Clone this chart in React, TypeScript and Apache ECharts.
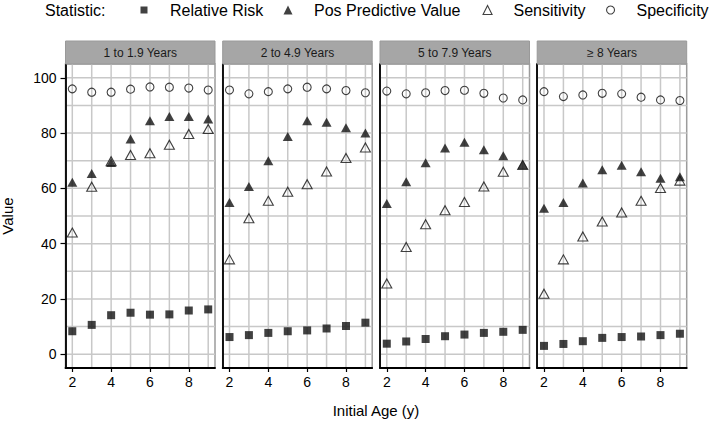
import React, { useEffect, useRef } from "react";
import * as echarts from "echarts";

// ---------------- data ----------------
const ages = [2, 3, 4, 5, 6, 7, 8, 9];
const panels = ["1 to 1.9 Years", "2 to 4.9 Years", "5 to 7.9 Years", "≥ 8 Years"];
const statistics = ["Relative Risk", "Pos Predictive Value", "Sensitivity", "Specificity"];

const relativeRisk = [
  [8.3, 10.6, 14.1, 15.0, 14.3, 14.4, 15.8, 16.2],
  [6.2, 6.9, 7.7, 8.3, 8.6, 9.3, 10.2, 11.4],
  [3.8, 4.6, 5.5, 6.5, 7.1, 7.7, 8.1, 8.8],
  [3.0, 3.7, 4.7, 5.9, 6.2, 6.4, 6.9, 7.4],
];
const posPredictiveValue = [
  [62.2, 65.4, 69.4, 77.9, 84.5, 86.0, 86.0, 85.1],
  [54.9, 60.7, 70.0, 78.8, 84.5, 83.9, 81.9, 80.0],
  [54.5, 62.4, 69.3, 74.6, 76.7, 74.0, 71.8, 68.6],
  [52.8, 54.9, 61.9, 66.7, 68.4, 66.0, 63.7, 64.2],
];
const sensitivity = [
  [44.0, 60.6, 69.8, 72.1, 72.7, 75.8, 79.7, 81.5],
  [34.3, 49.2, 55.5, 58.8, 61.5, 66.1, 71.0, 74.8],
  [25.6, 38.8, 47.0, 52.1, 55.1, 60.7, 66.0, 68.5],
  [21.9, 34.3, 42.6, 48.0, 51.3, 55.5, 60.1, 62.8],
];
const specificity = [
  [96.0, 94.8, 94.8, 95.9, 96.7, 96.6, 96.3, 95.6],
  [95.6, 94.2, 95.0, 96.0, 96.6, 96.0, 95.4, 94.6],
  [95.2, 94.2, 94.6, 95.4, 95.5, 94.4, 92.7, 92.0],
  [95.0, 93.2, 93.8, 94.4, 94.2, 93.0, 92.0, 91.8],
];

const xTickLabels = [2, 4, 6, 8];
const yTickLabels = [0, 20, 40, 60, 80, 100];
const xGridValues = ages;
const yGridValues = [0, 10, 20, 30, 40, 50, 60, 70, 80, 90, 100];

// ---------------- layout / style ----------------
const FONT = "'Liberation Sans', Arial, Helvetica, sans-serif";
const PANEL_LEFTS = [65.5, 222.7, 380, 537.2];
const PANEL_W = 149.5;
const PANEL_TOP = 64;
const PANEL_H = 304;
const X_MIN = 1.65;
const X_MAX = 9.35;
const Y_MIN = -5;
const Y_MAX = 105;
const GRID_COLOR = "#c8c8c8";
const GRID_WIDTH = 1.5;
const NONE = "rgba(0,0,0,0)";
const BORDER_COLOR = "#9c9c9c";

// grid line segments in data units: [x1, y1, x2, y2]
const gridSegments = [
  ...xGridValues.map((v) => [v, Y_MIN, v, Y_MAX]),
  ...yGridValues.map((v) => [X_MIN, v, X_MAX, v]),
];

const seriesStyles = [
  { symbol: "rect", symbolSize: 8, itemStyle: { color: "#111", borderWidth: 0 } },
  { symbol: "triangle", symbolSize: [10, 9], itemStyle: { color: "#111", borderWidth: 0 } },
  {
    symbol: "triangle",
    symbolSize: [10, 9],
    itemStyle: { color: NONE, borderColor: "#111", borderWidth: 1.1 },
  },
  {
    symbol: "circle",
    symbolSize: 8,
    itemStyle: { color: NONE, borderColor: "#111", borderWidth: 1.1 },
  },
];
const statData = [relativeRisk, posPredictiveValue, sensitivity, specificity];

const legendLayout = [
  { center: 144, icon: "rect", size: 7, open: false },
  { center: 288, icon: "triangle", size: 9, open: false },
  { center: 487, icon: "triangle", size: 9, open: true },
  { center: 610, icon: "circle", size: 8, open: true },
];

function renderGridLine(params: any, api: any) {
  const p1 = api.coord([api.value(0), api.value(1)]);
  const p2 = api.coord([api.value(2), api.value(3)]);
  return {
    type: "line",
    silent: true,
    shape: { x1: p1[0], y1: p1[1], x2: p2[0], y2: p2[1] },
    style: { stroke: GRID_COLOR, lineWidth: GRID_WIDTH },
  };
}

function buildOption() {
  const grid: any[] = [];
  const xAxis: any[] = [];
  const yAxis: any[] = [];
  const series: any[] = [];
  const graphic: any[] = [];

  panels.forEach((label, i) => {
    const left = PANEL_LEFTS[i];
    grid.push({
      left,
      top: PANEL_TOP,
      width: PANEL_W,
      height: PANEL_H,
      containLabel: false,
      show: true,
      backgroundColor: "#fff",
      borderColor: BORDER_COLOR,
      borderWidth: 1.5,
    });
    xAxis.push({
      type: "value",
      gridIndex: i,
      position: "bottom",
      min: X_MIN,
      max: X_MAX,
      z: 3,
      axisLine: { show: true, onZero: false, lineStyle: { color: "#000", width: 1.8 } },
      axisTick: { show: true, customValues: xTickLabels, length: 4, lineStyle: { color: "#000", width: 1.2 } },
      axisLabel: {
        show: true,
        customValues: xTickLabels,
        margin: 7,
        fontSize: 14,
        color: "#000",
        fontFamily: FONT,
      },
      splitLine: { show: false },
    });
    yAxis.push({
      type: "value",
      gridIndex: i,
      position: "left",
      min: Y_MIN,
      max: Y_MAX,
      z: 3,
      axisLine: { show: true, onZero: false, lineStyle: { color: "#000", width: 1.8 } },
      axisTick: {
        show: i === 0,
        customValues: yTickLabels,
        length: 5,
        lineStyle: { color: "#000", width: 1.2 },
      },
      axisLabel: {
        show: i === 0,
        customValues: yTickLabels,
        margin: 9,
        fontSize: 14,
        color: "#000",
        fontFamily: FONT,
      },
      splitLine: { show: false },
    });

    // panel grid lines, placed through the panel's own scales
    series.push({
      type: "custom",
      name: "grid lines",
      xAxisIndex: i,
      yAxisIndex: i,
      z: 2,
      silent: true,
      clip: false,
      encode: { x: [0, 2], y: [1, 3] },
      renderItem: renderGridLine,
      data: gridSegments,
    });

    statistics.forEach((name, k) => {
      series.push({
        type: "scatter",
        name,
        xAxisIndex: i,
        yAxisIndex: i,
        z: 4 + k,
        symbol: seriesStyles[k].symbol,
        symbolSize: seriesStyles[k].symbolSize,
        itemStyle: seriesStyles[k].itemStyle,
        emphasis: { disabled: true },
        data: ages.map((a, j) => [a, statData[k][i][j]]),
      });
    });

    graphic.push({
      type: "rect",
      shape: { x: left, y: 41, width: PANEL_W, height: 23 },
      style: { fill: "#a6a6a6", stroke: "#999", lineWidth: 1 },
      z: 10,
    });
    graphic.push({
      type: "text",
      x: left + PANEL_W / 2,
      y: 52.5,
      style: {
        text: label,
        fontSize: 12,
        fontFamily: FONT,
        fill: "#1a1a1a",
        align: "center",
        verticalAlign: "middle",
      },
      z: 11,
    });
  });

  graphic.push({
    type: "text",
    x: 7.5,
    y: 216,
    rotation: Math.PI / 2,
    style: {
      text: "Value",
      fontSize: 15,
      fontFamily: FONT,
      fill: "#000",
      align: "center",
      verticalAlign: "middle",
    },
  });
  graphic.push({
    type: "text",
    x: 376,
    y: 410,
    style: {
      text: "Initial Age (y)",
      fontSize: 15,
      fontFamily: FONT,
      fill: "#000",
      align: "center",
      verticalAlign: "middle",
    },
  });

  const legend = statistics.map((name, k) => {
    const L = legendLayout[k];
    const lg: any = {
      data: [{ name, icon: L.icon }],
      left: L.center - L.size / 2,
      top: 0,
      padding: 0,
      itemWidth: L.size,
      itemHeight: L.size,
      selectedMode: false,
      textStyle: {
        fontSize: 16,
        color: "#000",
        fontFamily: FONT,
        lineHeight: 20,
        padding: [0, 0, 0, 21 - L.size / 2],
      },
    };
    if (L.open) {
      lg.itemStyle = { borderWidth: 1.1, borderColor: "#111", color: NONE };
    } else {
      lg.itemStyle = { borderWidth: 0 };
    }
    return lg;
  });

  return {
    animation: false,
    backgroundColor: "#fff",
    textStyle: { fontFamily: FONT },
    title: {
      text: "Statistic:",
      left: 45,
      top: 0,
      padding: 0,
      textStyle: { fontSize: 16, fontWeight: "normal", color: "#000", fontFamily: FONT, lineHeight: 20 },
    },
    legend,
    grid,
    xAxis,
    yAxis,
    series,
    graphic,
  };
}

export default function App() {
  const ref = useRef<HTMLDivElement>(null);
  useEffect(() => {
    if (!ref.current) return;
    const chart = echarts.init(ref.current, null, { renderer: "svg" });
    chart.setOption(buildOption() as any);
    return () => chart.dispose();
  }, []);
  return (
    <div
      ref={ref}
      style={{ position: "absolute", left: 0, top: 0, width: 709, height: 422 }}
    />
  );
}
